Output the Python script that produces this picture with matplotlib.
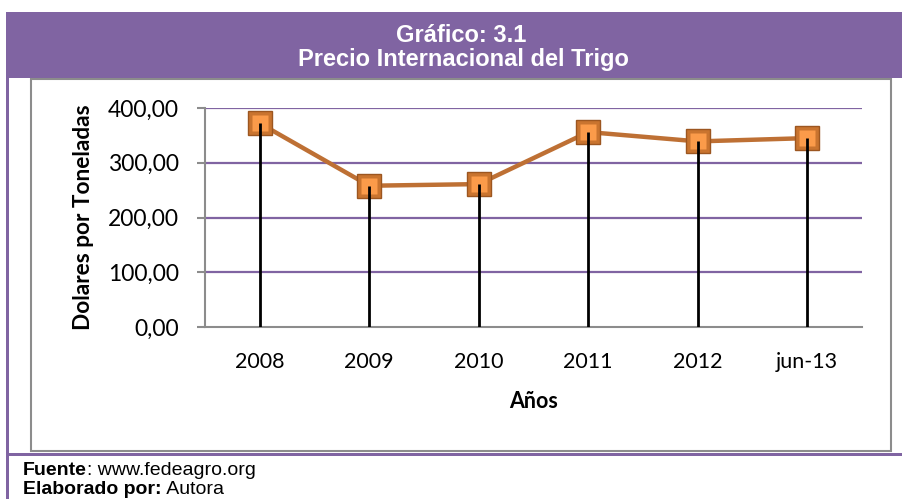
import matplotlib
matplotlib.use("Agg")
import matplotlib.pyplot as plt
from matplotlib.patches import Rectangle

# datos
anios = ["2008", "2009", "2010", "2011", "2012", "jun-13"]
precios = [372.0, 258.0, 261.0, 356.0, 339.0, 345.0]
y_ticks = [0, 100, 200, 300, 400]
y_tick_labels = ["0,00", "100,00", "200,00", "300,00", "400,00"]

W, H = 902, 499
morado = "#8064A2"
gris = "#8C8C8C"

fig = plt.figure(figsize=(W / 100, H / 100), dpi=100)


def px_rect(x0, y0, x1, y1, **kw):
    # rectangulo en pixeles (origen arriba-izquierda)
    r = Rectangle((x0 / W, 1 - y1 / H), (x1 - x0) / W, (y1 - y0) / H,
                  transform=fig.transFigure, **kw)
    fig.patches.append(r)
    return r


# cabecera morada y bordes
px_rect(6, 12, 902, 78, facecolor=morado, edgecolor="none")
px_rect(6, 12, 9, 499, facecolor=morado, edgecolor="none")
px_rect(31, 79, 891, 451, facecolor="none", edgecolor=gris, linewidth=1.5)
px_rect(6, 453, 902, 456, facecolor=morado, edgecolor="none")

fig.text(461 / W, 1 - 42 / H, "Gráfico: 3.1", color="white", fontsize=17,
         fontweight="bold", family="Liberation Sans", ha="center", va="baseline")
fig.text(463 / W, 1 - 66 / H, "Precio Internacional del Trigo", color="white",
         fontsize=17, fontweight="bold", family="Liberation Sans",
         ha="center", va="baseline")

# area del grafico
ax = fig.add_axes([205 / W, 1 - 327 / H, 657 / W, 219 / H])
x = list(range(len(anios)))

ax.plot(x, precios, color="#BE7034", linewidth=3.2, zorder=3)
ax.plot(x, precios, linestyle="none", marker="s", markersize=17,
        markerfacecolor="#C9742F", markeredgecolor="#9C5620",
        markeredgewidth=1.0, zorder=4)
ax.plot(x, precios, linestyle="none", marker="s", markersize=11,
        markerfacecolor="#FB9B4A", markeredgecolor="none", zorder=5)
ax.vlines(x, 0, precios, color="black", linewidth=2, zorder=6)

ax.set_xlim(-0.5, len(anios) - 0.5)
ax.set_ylim(0, 400)
ax.set_xticks(x)
ax.set_xticklabels(anios, family="Lato", fontsize=15.5)
ax.set_yticks(y_ticks)
ax.set_yticklabels(y_tick_labels, family="Lato", fontsize=16.5)
ax.tick_params(axis="x", length=0, pad=18)
ax.tick_params(axis="y", length=6, width=1.5, color=gris, pad=13)

for v in y_ticks[1:]:
    ax.axhline(v, color=morado, linewidth=1.6, zorder=1)

for s in ["top", "right"]:
    ax.spines[s].set_visible(False)
ax.spines["left"].set_color(gris)
ax.spines["left"].set_linewidth(1.5)
ax.spines["bottom"].set_color(gris)
ax.spines["bottom"].set_linewidth(1.5)

ax.set_xlabel("Años", family="Lato", fontsize=15.5, fontweight="bold", labelpad=14)
ax.set_ylabel("Dolares por Toneladas", family="Lato", fontsize=16.3,
              fontweight="bold", labelpad=10)

# pie de grafico
fig.canvas.draw()
r = fig.canvas.get_renderer()
for texto_b, texto, yb in [("Fuente", ": www.fedeagro.org", 475),
                           ("Elaborado por:", " Autora", 494)]:
    t = fig.text(23 / W, 1 - yb / H, texto_b, fontsize=14, fontweight="bold",
                 family="Liberation Sans", va="baseline")
    bb = t.get_window_extent(r)
    fig.text(bb.x1 / W, 1 - yb / H, texto, fontsize=14,
             family="Liberation Sans", va="baseline")

fig.savefig("out.png", dpi=100)
